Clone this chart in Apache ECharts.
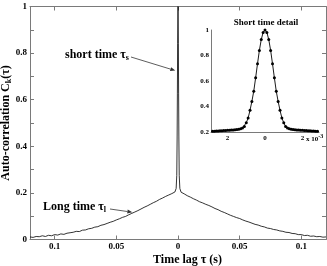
<!DOCTYPE html>
<html><head><meta charset="utf-8">
<script src="https://cdn.jsdelivr.net/npm/echarts@6/dist/echarts.min.js"></script>
<style>html,body{margin:0;padding:0;background:#fff}#c{width:327px;height:266px}</style>
</head><body><div id="c"></div>
<script>
// Main plot: time lag tau (s) and auto-correlation
const tauMain = [-0.12,-0.1175,-0.115,-0.1125,-0.11,-0.1075,-0.105,-0.1025,-0.1,-0.0975,-0.095,-0.0925,-0.09,-0.0875,-0.085,-0.0825,-0.08,-0.0775,-0.075,-0.0725,-0.07,-0.0675,-0.065,-0.0625,-0.06,-0.0575,-0.055,-0.0525,-0.05,-0.0475,-0.045,-0.0425,-0.04,-0.0375,-0.035,-0.0325,-0.03,-0.0275,-0.025,-0.0225,-0.02,-0.0175,-0.015,-0.0125,-0.01,-0.0075,-0.005,-0.0025,
  -0.0015,-0.001,-0.0007,-0.0005,-0.0003,0,0.0003,0.0005,0.0007,0.001,0.0015,
  0.0025,0.005,0.0075,0.01,0.0125,0.015,0.0175,0.02,0.0225,0.025,0.0275,0.03,0.0325,0.035,0.0375,0.04,0.0425,0.045,0.0475,0.05,0.0525,0.055,0.0575,0.06,0.0625,0.065,0.0675,0.07,0.0725,0.075,0.0775,0.08,0.0825,0.085,0.0875,0.09,0.0925,0.095,0.0975,0.1,0.1025,0.105,0.1075,0.11,0.1125,0.115,0.1175,0.12];
const acMain = [0.011,0.009,0.013,0.012,0.016,0.013,0.018,0.016,0.021,0.019,0.024,0.022,0.027,0.029,0.031,0.035,0.034,0.040,0.041,0.046,0.048,0.053,0.055,0.061,0.064,0.069,0.074,0.078,0.084,0.089,0.095,0.099,0.106,0.112,0.118,0.124,0.131,0.138,0.144,0.151,0.158,0.164,0.172,0.178,0.185,0.191,0.197,0.204,
  0.219,0.275,0.44,0.625,0.84,1.0,0.84,0.625,0.44,0.275,0.219,
  0.203,0.196,0.188,0.182,0.175,0.169,0.162,0.157,0.151,0.146,0.140,0.133,0.128,0.121,0.116,0.110,0.104,0.099,0.094,0.090,0.084,0.079,0.075,0.070,0.065,0.062,0.057,0.054,0.049,0.047,0.043,0.041,0.037,0.035,0.031,0.030,0.026,0.025,0.021,0.021,0.017,0.018,0.014,0.015,0.012,0.013,0.010,0.011];
// Inset: short time detail, tau in units of 1e-3 s
const tauInset = [-2.8,-2.7,-2.6,-2.5,-2.4,-2.3,-2.2,-2.1,-2.0,-1.9,-1.8,-1.7,-1.6,-1.5,-1.4,-1.3,-1.2,-1.1,-1.0,-0.9,-0.8,-0.7,-0.6,-0.5,-0.4,-0.3,-0.2,-0.1,0,0.1,0.2,0.3,0.4,0.5,0.6,0.7,0.8,0.9,1.0,1.1,1.2,1.3,1.4,1.5,1.6,1.7,1.8,1.9,2.0,2.1,2.2,2.3,2.4,2.5,2.6,2.7,2.8];
const acInset = [0.205,0.206,0.207,0.208,0.209,0.210,0.211,0.212,0.213,0.214,0.215,0.216,0.217,0.219,0.221,0.225,0.232,0.243,0.272,0.31,0.37,0.44,0.52,0.625,0.735,0.84,0.925,0.981,1.0,0.981,0.925,0.84,0.735,0.625,0.52,0.44,0.37,0.31,0.272,0.243,0.232,0.225,0.221,0.219,0.217,0.216,0.215,0.214,0.213,0.212,0.211,0.210,0.209,0.208,0.207,0.206,0.205];
const xTicksMain = [-0.1,-0.05,0,0.05,0.1];
const yLabelsMain = [0,0.2,0.4,0.6,0.8,1];
const yTicksMain = [0,0.1,0.2,0.3,0.4,0.5,0.6,0.7,0.8,0.9,1];
const xTicksInset = [-2,0,2];
const yTicksInset = [0.2,0.4,0.6,0.8,1];

const FONT = "'Liberation Serif','Times New Roman',serif";
const AX = '#7a7a7a';
const chart = echarts.init(document.getElementById('c'), null, {renderer: 'canvas'});
const lblStyle = (sz) => ({fontFamily: FONT, fontWeight: 'bold', fontSize: sz, color: '#000'});

const option = {
  animation: false,
  backgroundColor: '#fff',
  grid: [
    {left: 30, right: 1, top: 6.5, bottom: 26.5, show: false, containLabel: false, outerBoundsMode: 'none'},
    {left: 211, width: 108, top: 30, height: 102, show: true, backgroundColor: '#fff', borderWidth: 0, containLabel: false, outerBoundsMode: 'none'}
  ],
  xAxis: [
    {type: 'value', gridIndex: 0, min: -0.12, max: 0.12,
     axisLine: {onZero: false, lineStyle: {color: AX, width: 1}},
     axisTick: {inside: true, length: 4, customValues: xTicksMain, lineStyle: {color: AX}},
     axisLabel: Object.assign({margin: 3, customValues: xTicksMain, formatter: v => String(Math.abs(+v.toFixed(2)))}, lblStyle(9)),
     splitLine: {show: false},
     name: 'Time lag τ (s)', nameLocation: 'middle', nameGap: 14, nameMoveOverlap: false,
     nameTextStyle: Object.assign({padding: [0, 0, 0, 19]}, lblStyle(12))},
    {type: 'value', gridIndex: 0, position: 'top', min: -0.12, max: 0.12,
     axisLine: {onZero: false, lineStyle: {color: AX, width: 1}},
     axisTick: {inside: true, length: 4, customValues: xTicksMain, lineStyle: {color: AX}},
     axisLabel: {show: false}, splitLine: {show: false}},
    {type: 'value', gridIndex: 1, min: -2.88, max: 2.88,
     axisLine: {onZero: false, lineStyle: {color: AX, width: 1}},
     axisTick: {show: false, customValues: xTicksInset},
     axisLabel: Object.assign({margin: 3, customValues: xTicksInset, formatter: v => String(Math.abs(v))}, lblStyle(7)),
     splitLine: {show: false}}
  ],
  yAxis: [
    {type: 'value', gridIndex: 0, min: 0, max: 1, interval: 0.1,
     axisLine: {show: true, onZero: false, lineStyle: {color: AX, width: 1}},
     axisTick: {show: true, inside: true, length: 4, customValues: yTicksMain, lineStyle: {color: AX}},
     axisLabel: Object.assign({margin: 3, customValues: yLabelsMain, formatter: v => String(+(+v).toFixed(1))}, lblStyle(9)),
     splitLine: {show: false},
     name: 'Auto-correlation C{sub|k}(τ)', nameLocation: 'middle', nameGap: 17, nameMoveOverlap: false,
     nameTextStyle: Object.assign({rich: {sub: {fontFamily: FONT, fontWeight: 'bold', fontSize: 8, padding: [6, 0, 0, 0]}}}, lblStyle(12))},
    {type: 'value', gridIndex: 0, position: 'right', min: 0, max: 1, interval: 0.1,
     axisLine: {show: true, onZero: false, lineStyle: {color: AX, width: 1}},
     axisTick: {show: true, inside: true, length: 4, lineStyle: {color: AX}},
     axisLabel: {show: false}, splitLine: {show: false}},
    {type: 'value', gridIndex: 1, min: 0.2, max: 1, interval: 0.2,
     axisLine: {show: true, onZero: false, lineStyle: {color: AX, width: 1}},
     axisTick: {show: false},
     axisLabel: Object.assign({margin: 2, formatter: v => String(+(+v).toFixed(1))}, lblStyle(7)),
     splitLine: {show: false}}
  ],
  series: [
    {type: 'line', xAxisIndex: 0, yAxisIndex: 0, showSymbol: false, symbol: 'none',
     data: tauMain.map((t, i) => [t, acMain[i]]),
     lineStyle: {color: '#000', width: 0.8}},
    {type: 'line', xAxisIndex: 2, yAxisIndex: 2, symbol: 'circle', symbolSize: 3,
     itemStyle: {color: '#000'},
     data: tauInset.map((t, i) => [t, acInset[i]]),
     lineStyle: {color: '#000', width: 0.9}}
  ]
};
chart.setOption(option);

const p = (x, y) => chart.convertToPixel({xAxisIndex: 0, yAxisIndex: 0}, [x, y]);
function arrow(x0, y0, tip) {
  const [x1, y1] = tip;
  const a = Math.atan2(y1 - y0, x1 - x0), L = 5, W = 2;
  const bx = x1 - L * Math.cos(a), by = y1 - L * Math.sin(a);
  return [
    {type: 'line', shape: {x1: x0, y1: y0, x2: bx, y2: by}, style: {stroke: '#333', lineWidth: 0.8}},
    {type: 'polygon', shape: {points: [[x1, y1], [bx - W * Math.sin(a), by + W * Math.cos(a)], [bx + W * Math.sin(a), by - W * Math.cos(a)]]}, style: {fill: '#333'}}
  ];
}
const txt = (x, y, text, rich, sz, align) => ({type: 'text', x, y, z: 10, style: {text, fontFamily: FONT, fontWeight: 'bold', fontSize: sz, fill: '#000', align: align || 'left', verticalAlign: 'middle', rich: rich || {}}});
const subRich = {sub: {fontFamily: FONT, fontWeight: 'bold', fontSize: 8, fill: '#000', padding: [6, 0, 0, 0]}};
const supRich = {sup: {fontFamily: FONT, fontWeight: 'bold', fontSize: 6, fill: '#000', padding: [0, 0, 6, 0]}};
chart.setOption({graphic: [
  txt(65, 55, 'short time τ{sub|s}', subRich, 12),
  txt(43, 207, 'Long time τ{sub|l}', subRich, 12),
  txt(266, 23, 'Short time detail', null, 9, 'center'),
  txt(306, 139, 'x 10{sup|-3}', supRich, 7),
  ...arrow(131, 57, p(-0.0022, 0.725)),
  ...arrow(110, 209, p(-0.037, 0.117))
]});
</script></body></html>
